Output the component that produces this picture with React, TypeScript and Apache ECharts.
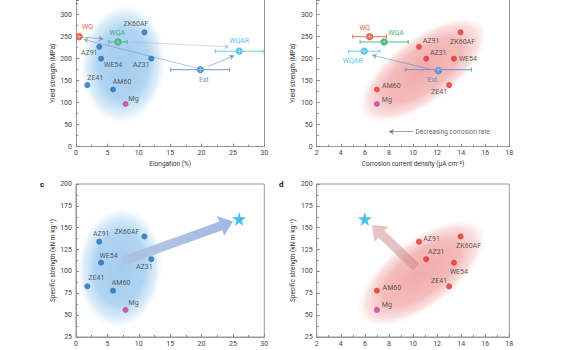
import React, { useEffect, useRef } from 'react';
import * as echarts from 'echarts';

// ---------- data ----------
const alloys = ['AZ91', 'ZK60AF', 'WE54', 'AZ31', 'ZE41', 'AM60', 'Mg'];
const alloyElongation = [3.7, 10.9, 4.0, 12.0, 1.8, 5.9, 7.9];
const alloyYield = [227, 260, 200, 200, 140, 130, 97];
const alloyCorrosion = [10.5, 13.95, 13.4, 11.1, 13.0, 7.0, 7.0];
const alloySpecific = [134, 140, 110, 114, 83, 78, 56];

const treatments = ['WQ', 'WQA', 'WQAR', 'Ext'];
const treatElongation = [0.5, 6.7, 26.0, 19.8];
const treatElongationErr = [0.4, 1.45, 3.8, 4.7];
const treatYield = [250, 238, 217, 175];
const treatCorrosion = [6.4, 7.6, 5.95, 12.1];
const treatCorrosionErr = [1.4, 2.0, 1.3, 2.75];

const targetElongation = 26;
const targetCorrosion = 6;
const targetSpecific = 160;

const elongTicks = { min: 0, max: 30, interval: 5 };
const corrTicks = { min: 2, max: 18, interval: 2 };
const yieldTicks = { min: 0, max: 333.4, interval: 50 }; // top of the panel is cropped
const specTicks = { min: 25, max: 200, interval: 25 };

// annotation geometry (data coordinates)
const arrowsElongYield = [
  [[1.1, 249], [4.4, 245]],
  [[8.9, 238], [24.4, 227]],
  [[19.2, 179], [1.2, 244]],
  [[21.0, 182], [25.2, 207]],
];
const arrowsCorrYield = [[[11.35, 176.6], [6.6, 208]]];
const corrosionRateArrow = [[10.0, 34], [8.0, 34]];
const bigArrowElong = [7.5, 112, 25.0, 157];
const bigArrowCorr = [10.25, 105, 6.6, 153];
const ellipseA = [7.5, 188];
const ellipseB = [10.85, 174];
const ellipseC = [7.0, 104];
const ellipseD = [10.72, 98];

// ---------- styles ----------
const FONT = 'Roboto, "Noto Sans", sans-serif';
const BLUE = '#1f70b8';
const RED = '#e2352a';
const MG = '#c2409a';
const STAR = '#19b0e8';
const treatColors = ['#e8604a', '#3fb27f', '#5cc3ec', '#5a8fd6'];
const arrowColorsA = ['#4a6fa0', '#9ab4cc', '#5f80aa', '#2d6aa8'];

const offA: Record<string, [number, number]> = {
  AZ91: [-10, 6.5], ZK60AF: [-8.5, -8.5], WE54: [12, 6.5], AZ31: [-10, 6.5],
  ZE41: [8, -7], AM60: [9, -7], Mg: [8, -5],
};
const offB: Record<string, [number, number]> = {
  AZ91: [12, -6], ZK60AF: [2, 10], WE54: [14, 0], AZ31: [12, -6],
  ZE41: [-10, 6.5], AM60: [14.5, -3], Mg: [10, -4],
};
const offC: Record<string, [number, number]> = {
  AZ91: [2, -8], ZK60AF: [-17.5, -4.5], WE54: [7.5, -7], AZ31: [-7, 8],
  ZE41: [9, -8], AM60: [8, -7.5], Mg: [8, -7],
};
const offD: Record<string, [number, number]> = {
  AZ91: [12.5, -3], ZK60AF: [8, 10], WE54: [5, 9], AZ31: [10, -7],
  ZE41: [-10, -5], AM60: [15, -3], Mg: [10, -5],
};
const tOffA: Record<string, [number, number]> = {
  WQ: [8.5, -10], WQA: [-1, -9], WQAR: [0, -10], Ext: [3.5, 10.5],
};
const tOffB: Record<string, [number, number]> = {
  WQ: [-5, -9], WQA: [12, -9], WQAR: [-11.5, 10], Ext: [-6, 10.5],
};

const STAR_PATH =
  'path://M50,0 L61,35 L98,35 L68,57 L79,91 L50,70 L21,91 L32,57 L2,35 L39,35 Z';

function valueAxis(gridIndex: number, t: any, name: string, nameGap: number, isY: boolean) {
  return {
    type: 'value',
    gridIndex,
    min: t.min,
    max: t.max,
    interval: t.interval,
    name,
    nameLocation: 'middle',
    nameGap,
    nameTextStyle: { fontSize: 6.5, color: '#333', fontFamily: FONT },
    axisLine: { show: true, onZero: false, lineStyle: { color: '#999', width: 1 } },
    axisTick: { show: true, inside: true, length: 3, lineStyle: { color: '#888' } },
    minorTick: { show: true, splitNumber: 2, length: 2, lineStyle: { color: '#888' } },
    splitLine: { show: false },
    minorSplitLine: { show: false },
    axisLabel: { fontSize: 7, color: '#444', fontFamily: FONT, margin: isY ? 4 : 3, showMaxLabel: t.max % t.interval === 0 ? true : false },
  };
}

function frameAxis(gridIndex: number, t: any) {
  return {
    type: 'value',
    gridIndex,
    position: 'right',
    min: t.min,
    max: t.max,
    axisLine: { show: true, onZero: false, lineStyle: { color: '#999', width: 1 } },
    axisTick: { show: false },
    axisLabel: { show: false },
    splitLine: { show: false },
  };
}

function alloySeries(xs: number[], ys: number[], idx: number, color: string, offs: Record<string, [number, number]>) {
  return {
    type: 'scatter',
    xAxisIndex: idx,
    yAxisIndex: idx,
    z: 5,
    symbolSize: 6,
    data: alloys.map((n, i) => ({
      name: n,
      value: [xs[i], ys[i]],
      itemStyle: { color: n === 'Mg' ? MG : color },
      label: {
        show: true,
        formatter: n,
        position: 'inside',
        offset: offs[n],
        align: 'center',
        verticalAlign: 'middle',
        color: '#333',
        fontSize: 7,
        fontFamily: FONT,
      },
    })),
  };
}

function treatmentSeries(xs: number[], errs: number[], ys: number[], idx: number, offs: Record<string, [number, number]>) {
  return {
    type: 'custom',
    xAxisIndex: idx,
    yAxisIndex: idx,
    z: 6,
    clip: true,
    data: treatments.map((_, i) => [xs[i], ys[i], errs[i], i]),
    renderItem: (_p: any, api: any) => {
      const x = api.value(0), y = api.value(1), e = api.value(2), i = api.value(3);
      const p = api.coord([x, y]);
      const l = api.coord([x - e, y]);
      const r = api.coord([x + e, y]);
      const c = treatColors[i];
      const off = offs[treatments[i]];
      return {
        type: 'group',
        children: [
          { type: 'line', shape: { x1: l[0], y1: l[1], x2: r[0], y2: r[1] }, style: { stroke: c, lineWidth: 0.9 } },
          { type: 'line', shape: { x1: l[0], y1: l[1] - 2, x2: l[0], y2: l[1] + 2 }, style: { stroke: c, lineWidth: 0.9 } },
          { type: 'line', shape: { x1: r[0], y1: r[1] - 2, x2: r[0], y2: r[1] + 2 }, style: { stroke: c, lineWidth: 0.9 } },
          { type: 'circle', shape: { cx: p[0], cy: p[1], r: 3.6 }, style: { fill: c } },
          { type: 'line', shape: { x1: p[0], y1: p[1] - 2.6, x2: p[0], y2: p[1] + 2.6 }, style: { stroke: 'rgba(255,255,255,0.7)', lineWidth: 0.6 } },
          { type: 'line', shape: { x1: p[0] - 2.6, y1: p[1], x2: p[0] + 2.6, y2: p[1] }, style: { stroke: 'rgba(255,255,255,0.7)', lineWidth: 0.6 } },
          {
            type: 'text',
            x: p[0] + off[0],
            y: p[1] + off[1],
            style: { text: treatments[i], fill: c, fontSize: 7, fontFamily: FONT, align: 'center', verticalAlign: 'middle' },
          },
        ],
      };
    },
  };
}

function ellipseSeries(center: number[], idx: number, rx: number, ry: number, rotDeg: number, stops: any[]) {
  return {
    type: 'custom',
    xAxisIndex: idx,
    yAxisIndex: idx,
    z: 1,
    silent: true,
    clip: false,
    data: [center],
    renderItem: (_p: any, api: any) => {
      const p = api.coord([api.value(0), api.value(1)]);
      return {
        type: 'ellipse',
        x: p[0],
        y: p[1],
        rotation: (rotDeg * Math.PI) / 180,
        shape: { cx: 0, cy: 0, rx, ry },
        style: { fill: new echarts.graphic.RadialGradient(0.5, 0.5, 0.5, stops) },
      };
    },
  };
}

function bigArrowSeries(arr: number[], idx: number, c0: string, c1: string) {
  return {
    type: 'custom',
    xAxisIndex: idx,
    yAxisIndex: idx,
    z: 3,
    silent: true,
    data: [arr],
    renderItem: (_p: any, api: any) => {
      const a = api.coord([api.value(0), api.value(1)]);
      const b = api.coord([api.value(2), api.value(3)]);
      const dx = b[0] - a[0], dy = b[1] - a[1];
      const len = Math.sqrt(dx * dx + dy * dy);
      const ux = dx / len, uy = dy / len;
      const nx = -uy, ny = ux;
      const sw = 4.6, hw = 10.5, hl = 13;
      const hb = [b[0] - ux * hl, b[1] - uy * hl];
      const pts = [
        [a[0] + nx * sw, a[1] + ny * sw],
        [hb[0] + nx * sw, hb[1] + ny * sw],
        [hb[0] + nx * hw, hb[1] + ny * hw],
        [b[0], b[1]],
        [hb[0] - nx * hw, hb[1] - ny * hw],
        [hb[0] - nx * sw, hb[1] - ny * sw],
        [a[0] - nx * sw, a[1] - ny * sw],
      ];
      return {
        type: 'polygon',
        shape: { points: pts },
        style: {
          fill: new echarts.graphic.LinearGradient(a[0], a[1], b[0], b[1], [
            { offset: 0, color: c0 },
            { offset: 1, color: c1 },
          ], true),
        },
      };
    },
  };
}

function arrowLines(list: number[][][], idx: number, colors: string[]) {
  return {
    type: 'lines',
    coordinateSystem: 'cartesian2d',
    xAxisIndex: idx,
    yAxisIndex: idx,
    z: 4,
    symbol: ['none', 'arrow'],
    symbolSize: 5,
    silent: true,
    data: list.map((c, i) => ({ coords: c, lineStyle: { color: colors[i % colors.length], width: 0.9 } })),
  };
}

const blueStops = [
  { offset: 0, color: 'rgba(155,200,238,0.92)' },
  { offset: 0.6, color: 'rgba(162,205,240,0.85)' },
  { offset: 0.85, color: 'rgba(185,218,244,0.5)' },
  { offset: 1, color: 'rgba(210,230,248,0)' },
];
const redStops = [
  { offset: 0, color: 'rgba(240,160,160,0.88)' },
  { offset: 0.6, color: 'rgba(242,170,170,0.8)' },
  { offset: 0.85, color: 'rgba(245,190,190,0.5)' },
  { offset: 1, color: 'rgba(250,218,218,0)' },
];

export default function App() {
  const ref = useRef<HTMLDivElement>(null);
  useEffect(() => {
    if (!ref.current) return;
    const chart = echarts.init(ref.current, undefined, { renderer: 'svg' });
    const option: any = {
      animation: false,
      backgroundColor: '#fff',
      grid: [
        { left: 76, top: 0, width: 188.3, height: 146.7, show: false },
        { left: 316.7, top: 0, width: 192.6, height: 146.7, show: false },
        { left: 76, top: 184, width: 188.3, height: 153, show: true, borderColor: '#999', borderWidth: 1 },
        { left: 316.7, top: 184, width: 192.6, height: 153, show: true, borderColor: '#999', borderWidth: 1 },
      ],
      xAxis: [
        valueAxis(0, elongTicks, 'Elongation (%)', 14, false),
        valueAxis(1, corrTicks, 'Corrosion current density (μA cm⁻²)', 14, false),
        valueAxis(2, elongTicks, '', 14, false),
        valueAxis(3, corrTicks, '', 14, false),
      ],
      yAxis: [
        valueAxis(0, yieldTicks, 'Yield strength (MPa)', 20, true),
        valueAxis(1, yieldTicks, 'Yield strength (MPa)', 20, true),
        valueAxis(2, specTicks, 'Specific strength (kN m kg⁻¹)', 20, true),
        valueAxis(3, specTicks, 'Specific strength (kN m kg⁻¹)', 20, true),
        frameAxis(0, yieldTicks),
        frameAxis(1, yieldTicks),
      ],
      graphic: [
        { type: 'text', left: 40, top: 180, style: { text: 'c', fontSize: 8, fontWeight: 'bold', fill: '#111', fontFamily: FONT } },
        { type: 'text', left: 279, top: 180, style: { text: 'd', fontSize: 8, fontWeight: 'bold', fill: '#111', fontFamily: FONT } },
      ],
      series: [
        ellipseSeries(ellipseA, 0, 42, 59, -4, blueStops),
        ellipseSeries(ellipseB, 1, 76, 33, 37, redStops),
        ellipseSeries(ellipseC, 2, 42, 60, -4, blueStops),
        ellipseSeries(ellipseD, 3, 76, 34, 37, redStops),
        arrowLines(arrowsElongYield, 0, arrowColorsA),
        arrowLines(arrowsCorrYield, 1, ['#4a74b0']),
        arrowLines([corrosionRateArrow], 1, ['#333']),
        {
          type: 'scatter',
          xAxisIndex: 1,
          yAxisIndex: 1,
          symbolSize: 1,
          itemStyle: { color: 'rgba(0,0,0,0)' },
          silent: true,
          data: [{
            value: corrosionRateArrow[0],
            label: {
              show: true, position: 'right', distance: 2, formatter: 'Decreasing corrosion rate',
              fontSize: 6.5, color: '#333', fontFamily: FONT,
            },
          }],
        },
        alloySeries(alloyElongation, alloyYield, 0, BLUE, offA),
        alloySeries(alloyCorrosion, alloyYield, 1, RED, offB),
        alloySeries(alloyElongation, alloySpecific, 2, BLUE, offC),
        alloySeries(alloyCorrosion, alloySpecific, 3, RED, offD),
        treatmentSeries(treatElongation, treatElongationErr, treatYield, 0, tOffA),
        treatmentSeries(treatCorrosion, treatCorrosionErr, treatYield, 1, tOffB),
        bigArrowSeries(bigArrowElong, 2, 'rgba(175,193,226,0.85)', 'rgba(150,176,222,0.9)'),
        bigArrowSeries(bigArrowCorr, 3, 'rgba(205,140,140,0.55)', 'rgba(215,160,160,0.6)'),
        {
          type: 'scatter', xAxisIndex: 2, yAxisIndex: 2, z: 6, symbol: STAR_PATH, symbolSize: 14,
          itemStyle: { color: STAR }, data: [[targetElongation, targetSpecific]],
        },
        {
          type: 'scatter', xAxisIndex: 3, yAxisIndex: 3, z: 6, symbol: STAR_PATH, symbolSize: 14,
          itemStyle: { color: STAR }, data: [[targetCorrosion, targetSpecific]],
        },
      ],
    };
    chart.setOption(option);
    return () => chart.dispose();
  }, []);
  return <div ref={ref} style={{ position: 'absolute', left: 0, top: 0, width: 579, height: 350 }} />;
}
